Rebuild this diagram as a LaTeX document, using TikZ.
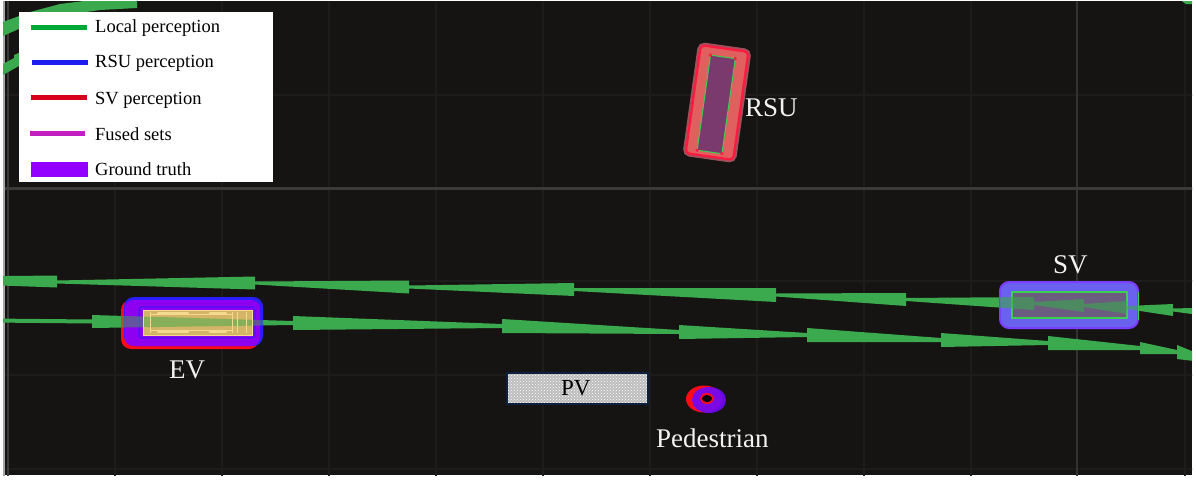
\documentclass[tikz,border=0pt]{standalone}
\usepackage{fontspec}
\setmainfont{Liberation Serif}
\usetikzlibrary{patterns}
\definecolor{bg}{HTML}{151412}
\definecolor{gridc}{HTML}{1D1C1B}
\definecolor{gridb}{HTML}{3A3A3A}
\definecolor{traj}{HTML}{3BA94D}
\definecolor{lgreen}{HTML}{00A838}
\definecolor{lblue}{HTML}{1E1EF0}
\definecolor{lred}{HTML}{D6001C}
\definecolor{lmag}{HTML}{C21FC0}
\definecolor{lpurp}{HTML}{9400FF}
\definecolor{evred}{HTML}{FF0A18}
\definecolor{evblue}{HTML}{2A1EFF}
\definecolor{evpurp}{HTML}{8E00F0}
\definecolor{evyel}{HTML}{D4B466}
\definecolor{evline}{HTML}{F3DA8E}
\definecolor{svblue}{HTML}{6A62EE}
\definecolor{svedge}{HTML}{7C3CFF}
\definecolor{svin}{HTML}{6C5C80}
\definecolor{rsusal}{HTML}{E0605F}
\definecolor{rsured}{HTML}{FF1A40}
\definecolor{rsuin}{HTML}{7A3A6E}
\definecolor{thing}{HTML}{3CD050}
\definecolor{pvgray}{HTML}{BDBDBD}
\definecolor{pvedge}{HTML}{0C2040}
\definecolor{labw}{HTML}{F2F2F2}
\newcommand{\wdg}[6]{\fill (#1,{#2-#3}) -- (#4,{#5-#6}) -- (#4,{#5+#6}) -- (#1,{#2+#3}) -- cycle;}
\newcommand{\uppertraj}{%
\wdg{-140}{279}{1.5}{57}{281.5}{6}
\wdg{57}{282}{1.5}{255}{283}{6.5}
\wdg{255}{283}{1.5}{409}{287}{6.5}
\wdg{409}{287}{1.5}{574}{289.5}{6.5}
\wdg{574}{289.5}{1.5}{776}{295}{7}
\wdg{776}{295}{1.5}{906}{299.5}{6.5}
\wdg{906}{299.5}{1.5}{1034}{303.5}{6.5}
\wdg{1034}{303.5}{1.5}{1084}{305.5}{6.5}
\wdg{1084}{305.5}{1.5}{1127}{307.5}{6.5}
\wdg{1127}{307.5}{1.5}{1173}{310}{6}
\wdg{1173}{310}{1.5}{1230}{313}{6}}
\newcommand{\lowertraj}{%
\fill (-10,318.5) -- (92,319.5) -- (92,323.5) -- (-10,322.5) -- cycle;
\wdg{92}{321.5}{6.5}{293}{323}{2}
\wdg{293}{323}{7}{502}{326}{2}
\wdg{502}{326}{7}{679}{332}{2}
\wdg{679}{332}{7}{807}{335}{2}
\wdg{807}{335}{7}{941}{340}{2}
\wdg{941}{340}{7}{1048}{343}{2}
\wdg{1048}{343}{7}{1140}{348}{2}
\wdg{1140}{348}{6}{1177}{352}{2}
\wdg{1177}{352}{7}{1215}{362}{1.5}}
\tikzset{
  labtxt/.style={text=labw, inner sep=0pt, anchor=base west, font=\fontsize{27}{27}\selectfont},
  legtxt/.style={text=black, inner sep=0pt, anchor=base west, font=\fontsize{18.5}{19}\selectfont},
  legline/.style={line width=5pt},
  gridline/.style={draw=gridc, line width=1.2pt}
}
\begin{document}
\begin{tikzpicture}[x=1pt,y=-1pt]
\useasboundingbox (0,0) rectangle (1196,479);
\fill[white] (0,0) rectangle (1196,479);
\fill[bg] (3,1) rectangle (1192,475);
\begin{scope}
\clip (3,1) rectangle (1192,475);
% grid
\foreach \gx in {115,222,329,436,543,650,757,864,971,1185}{\draw[gridline] (\gx,0) -- (\gx,479);}
\foreach \gy in {95,281,375,469}{\draw[gridline] (0,\gy) -- (1196,\gy);}
\draw[gridb!80!bg, line width=2pt] (1077,0) -- (1077,479);
\draw[gridb, line width=3pt] (0,188) -- (1196,188);
\draw[gridb, line width=2pt] (8,0) -- (8,479);
\draw[gray!70, line width=1.2pt] (4,0) -- (4,479);
% top-left trajectories
\fill[traj] (3,22) -- (30,12) -- (60,4) -- (100,-1) -- (137,-3) -- (137,8) -- (100,10) -- (60,16) -- (30,24) -- (3,36) -- cycle;
\fill[traj] (3,64) -- (14,58) -- (14,55) -- (26,50) -- (26,62) -- (3,75) -- cycle;
\fill[traj] (1180,0) -- (1192,0) -- (1192,4) -- (1186,4) -- cycle;
% trajectories
\begin{scope}[fill=traj]
\uppertraj
\lowertraj
\end{scope}
% EV
\fill[evred, rounded corners=10pt] (121,300) rectangle (259,349);
\fill[evblue, rounded corners=10pt] (124,297) rectangle (263,346);
\fill[evpurp, rounded corners=9pt] (124.5,300) rectangle (260,346);
\draw[evblue!70!evpurp, line width=1.2pt, rounded corners=3pt] (139,307) rectangle (255,338);
\fill[evyel] (143,310) rectangle (252,335);
\begin{scope}
\clip[rounded corners=9pt] (121,297) rectangle (263,349);
\begin{scope}[fill=traj, opacity=0.5]
\lowertraj
\end{scope}
\end{scope}
\begin{scope}[draw=evline, line width=1pt]
\draw (143,310) rectangle (252,335);
\draw (150,312) -- (150,333);
\draw (232,312) -- (232,333);
\draw (237,312) -- (237,333);
\draw (246,312) -- (246,333);
\draw (150,314.5) -- (232,314.5);
\draw (150,330.5) -- (232,330.5);
\draw[line width=2.5pt, line cap=round] (158,313.5) -- (188,313.5);
\draw[line width=2.5pt, line cap=round] (210,313.5) -- (226,313.5);
\draw[line width=2.5pt, line cap=round] (158,331.5) -- (188,331.5);
\draw[line width=2.5pt, line cap=round] (210,331.5) -- (226,331.5);
\end{scope}
% SV
\fill[svblue, rounded corners=9pt] (1000,282) rectangle (1138,328);
\draw[svedge, line width=2pt, rounded corners=9pt] (1000,282) rectangle (1138,328);
\draw[thing, line width=1.2pt] (1138.5,292) -- (1138.5,320);
\fill[svin] (1012,292) rectangle (1127,318);
\draw[thing, line width=1.2pt] (1012,292) rectangle (1127,318);
\begin{scope}
\clip[rounded corners=9pt] (1000,282) rectangle (1138,328);
\begin{scope}[fill=traj, opacity=0.6]
\uppertraj
\end{scope}
\end{scope}
% RSU
\begin{scope}[shift={(717,102.5)}, rotate=-8]
\draw[rsured!60, line width=4pt, opacity=0.6, rounded corners=5pt] (-25,-55.5) rectangle (25,55.5);
\fill[rsusal, rounded corners=4pt] (-24,-54.5) rectangle (24,54.5);
\draw[rsured, line width=2.2pt, rounded corners=4pt] (-24,-54.5) rectangle (24,54.5);
\fill[rsuin] (-13,-46) rectangle (12,50);
\draw[thing, line width=1pt] (-13,-46) rectangle (12,50);
\foreach \cx/\cy in {-13/-46,12/-46,12/50,-13/50}{\fill[rsured] (\cx,\cy) circle (1.8pt);}
\end{scope}
% PV
\fill[pvgray] (507,373) rectangle (648,404);
\fill[pattern=crosshatch dots, pattern color=white] (507,373) rectangle (648,404);
\draw[pvedge, line width=1.6pt] (507,373) rectangle (648,404);
% Pedestrian
\fill[evred] (704,399) ellipse [x radius=18pt, y radius=13.5pt];
\fill[evpurp!70!evblue, opacity=0.92] (709,400) ellipse [x radius=17pt, y radius=13pt];
\draw[evred, line width=2pt] (707,398.5) ellipse [x radius=6pt, y radius=4.5pt];
\fill[black] (707,398.5) ellipse [x radius=5pt, y radius=3.5pt];
\end{scope}
% labels
\node[labtxt] (rsu) at (745,116) {RSU};
\node[labtxt] (ev) at (169,378) {EV};
\node[labtxt] (sv) at (1053,273) {SV};
\node[labtxt, text=black, font=\fontsize{23}{23}\selectfont] (pv) at (561,395) {PV};
\node[labtxt] (ped) at (656,447) {Pedestrian};
% legend
\fill[white] (19,12) rectangle (273,182);
\draw[lgreen, legline] (31,27) -- (87,27);
\draw[lblue, legline] (32,62) -- (88,62);
\draw[lred, legline] (31,97) -- (87,97);
\draw[lmag, legline] (30,133) -- (85,133);
\fill[lpurp] (31,162) rectangle (88,177);
\node[legtxt] (l1) at (95,32) {Local perception};
\node[legtxt] (l2) at (95,67.5) {RSU perception};
\node[legtxt] (l3) at (95,104) {SV perception};
\node[legtxt] (l4) at (95,140) {Fused sets};
\node[legtxt] (l5) at (95,175) {Ground truth};
\end{tikzpicture}
\end{document}
